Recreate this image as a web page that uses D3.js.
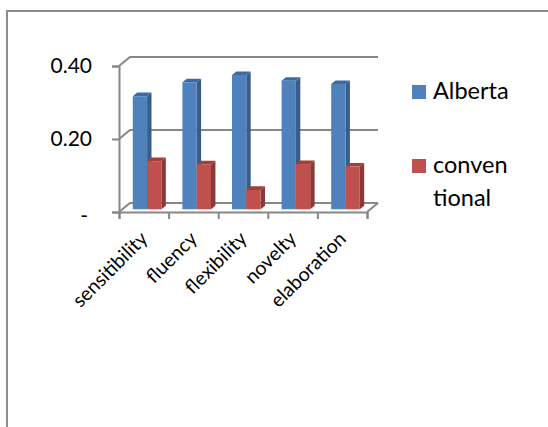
<!DOCTYPE html>
<html>
<head>
<meta charset="utf-8">
<script src="https://cdn.jsdelivr.net/npm/d3@7"></script>
<style>
  html, body { margin: 0; padding: 0; background: #fff; }
  svg { display: block; }
  text { font-family: Lato, "Open Sans", sans-serif; fill: #000; }
</style>
</head>
<body>
<svg id="chart" width="548" height="427"></svg>
<script>
// Data
const categories = ["sensitibility", "fluency", "flexibility", "novelty", "elaboration"];
const seriesNames = ["Alberta", "conventional"];
const alberta = [0.310, 0.348, 0.368, 0.352, 0.343];
const conventional = [0.132, 0.123, 0.053, 0.124, 0.117];
const yTicks = [0, 0.2, 0.4];
const legendLines = [["Alberta"], ["conven", "tional"]];

const seriesValues = [alberta, conventional];
const faceColors = [
  { front: "#4f81bd", side: "#385d8a", top: "#3e6aa2" },
  { front: "#c0504d", side: "#8c3836", top: "#a03f3c" }
];

const svg = d3.select("#chart");
const W = 548, H = 427;

// Frame around the chart area
svg.append("path")
  .attr("d", `M7,${H} L7,11 L${W},11`)
  .attr("fill", "none")
  .attr("stroke", "#8c8c8c")
  .attr("stroke-width", 2);

// 3D geometry: front plane axes, depth offset towards the back wall
const X0 = 119, X1 = 367;
const DX = 11, DY = 9;
const y = d3.scaleLinear().domain([0, 0.4]).range([212, 66]);
const xCat = d3.scaleBand().domain(categories).range([X0, X1])
  .paddingInner(0.423).paddingOuter(0.2115);
const xSer = d3.scaleBand().domain(seriesNames).range([0, xCat.bandwidth()]);
const proj = (x, v, z) => [x + z * DX, y(v) - z * DY];
const Z0 = 0.3, Z1 = 0.7;

const gridColor = "#878787";
const walls = svg.append("g").attr("stroke", gridColor).attr("stroke-width", 2).attr("fill", "none");
const line = d3.line();

// Back wall gridlines and the left wall diagonals
yTicks.forEach(v => {
  walls.append("path").attr("d", line([proj(X0, v, 0), proj(X0, v, 1), proj(X1, v, 1)]));
});
// Right floor edge
walls.append("path").attr("d", line([proj(X1, 0, 0), proj(X1, 0, 1)]));

// Bars: side, top and front faces
const bars = svg.append("g");
categories.forEach((c, i) => {
  seriesNames.forEach((s, j) => {
    const v = seriesValues[j][i];
    const xl = xCat(c) + xSer(s);
    const xr = xl + xSer.bandwidth();
    const col = faceColors[j];
    const g = bars.append("g");
    g.append("path")
      .attr("d", line([proj(xr, 0, Z0), proj(xr, v, Z0), proj(xr, v, Z1), proj(xr, 0, Z1)]) + "Z")
      .attr("fill", col.side);
    g.append("path")
      .attr("d", line([proj(xl, v, Z0), proj(xr, v, Z0), proj(xr, v, Z1), proj(xl, v, Z1)]) + "Z")
      .attr("fill", col.top);
    g.append("path")
      .attr("d", line([proj(xl, 0, Z0), proj(xl, v, Z0), proj(xr, v, Z0), proj(xr, 0, Z0)]) + "Z")
      .attr("fill", col.front);
  });
});

// Value axis
const yAxis = svg.append("g")
  .attr("transform", `translate(${X0},0)`)
  .call(d3.axisLeft(y).tickValues(yTicks).tickSize(7).tickPadding(20)
    .tickFormat(d => d === 0 ? "-" : d3.format(".2f")(d)));
yAxis.select(".domain").attr("stroke", gridColor).attr("stroke-width", 2);
yAxis.selectAll(".tick line").attr("stroke", gridColor).attr("stroke-width", 2);
yAxis.selectAll(".tick text")
  .style("font-family", "Lato, sans-serif")
  .style("font-size", "21px")
  .attr("dx", d => d === 0 ? -4 : 0)
  .attr("dy", d => d === 0 ? "0.5em" : "0.3em");

// Category axis: tick marks at band boundaries
const xEdge = d3.scaleLinear().domain([0, categories.length]).range([X0, X1]);
const xAxis = svg.append("g")
  .attr("transform", `translate(0,${y(0)})`)
  .call(d3.axisBottom(xEdge).tickValues(d3.range(categories.length + 1)).tickSize(7).tickFormat(""));
xAxis.select(".domain").attr("stroke", gridColor).attr("stroke-width", 2);
xAxis.selectAll(".tick line").attr("stroke", gridColor).attr("stroke-width", 2);

// Rotated category labels
svg.append("g").selectAll("text")
  .data(categories)
  .join("text")
  .attr("transform", d => `translate(${xCat(d) + xCat.bandwidth() / 2 + 5},${y(0) + 28}) rotate(-45)`)
  .attr("text-anchor", "end")
  .style("font-size", "19.5px")
  .text(d => d);

// Legend
const legend = svg.append("g");
legendLines.forEach((lines, j) => {
  const top = 85 + j * 74;
  legend.append("rect")
    .attr("x", 412).attr("y", top).attr("width", 14).attr("height", 14)
    .attr("fill", faceColors[j].front);
  lines.forEach((t, k) => {
    legend.append("text")
      .attr("x", 433).attr("y", top + 14 + k * 33)
      .style("font-size", "23.5px")
      .text(t);
  });
});
</script>
</body>
</html>
